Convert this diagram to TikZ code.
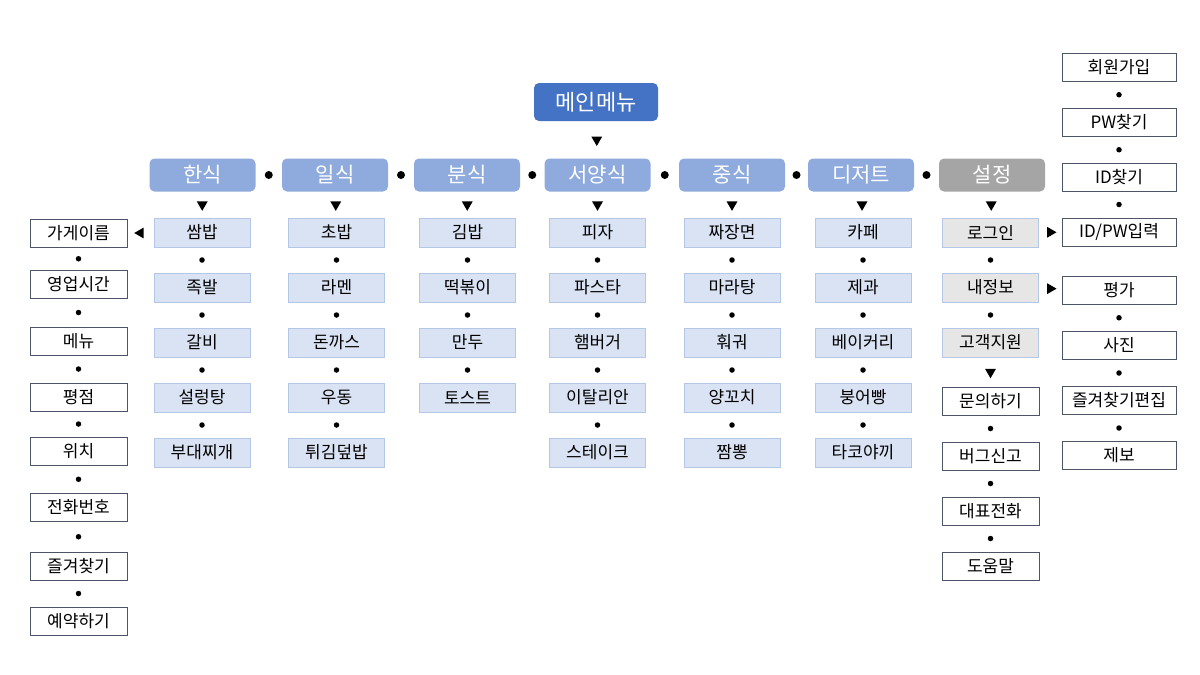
\documentclass[tikz,border=0pt]{standalone}
\usepackage{fontspec}
\setmainfont{Noto Sans CJK KR}
\usetikzlibrary{shapes.geometric}
\definecolor{mainblue}{HTML}{4472C4}
\definecolor{catblue}{HTML}{8FAADC}
\definecolor{catgray}{HTML}{A5A5A5}
\definecolor{subfill}{HTML}{DAE3F3}
\definecolor{subborder}{HTML}{B4C7E7}
\definecolor{setfill}{HTML}{E7E6E6}
\definecolor{boxline}{HTML}{4A5566}
\begin{document}
\begin{tikzpicture}[x=1pt,y=-1pt,
  mainbox/.style={fill=mainblue, rounded corners=5pt, text=white, font=\fontsize{22}{26}\selectfont, minimum width=124pt, minimum height=38pt, inner sep=0pt},
  catbox/.style={fill=catblue, rounded corners=5pt, text=white, font=\fontsize{21}{25}\selectfont, minimum width=106pt, minimum height=33pt, inner sep=0pt},
  subbox/.style={fill=subfill, draw=subborder, line width=1pt, font=\fontsize{17}{20}\selectfont, minimum width=96pt, minimum height=29pt, inner sep=0pt},
  setbox/.style={subbox, fill=setfill},
  whitebox/.style={fill=white, draw=boxline, line width=0.9pt, font=\fontsize{17}{20}\selectfont, minimum width=97pt, minimum height=28pt, inner sep=0pt},
  dotc/.style={circle, fill=black, inner sep=0pt, minimum size=5.5pt},
  bigdot/.style={circle, fill=black, inner sep=0pt, minimum size=8pt},
  tridown/.style={regular polygon, regular polygon sides=3, shape border rotate=180, fill=black, inner sep=0pt, minimum size=12.5pt},
  triright/.style={regular polygon, regular polygon sides=3, shape border rotate=-90, fill=black, inner sep=0pt, minimum size=12.5pt},
  trileft/.style={regular polygon, regular polygon sides=3, shape border rotate=90, fill=black, inner sep=0pt, minimum size=12.5pt},
]
\path[use as bounding box, fill=white] (0,0) rectangle (1200,675);

% main menu
\node[mainbox] (m) at (596,102) {메인메뉴};

% categories
\node[catbox] (han) at (202.5,175) {한식};
\node[catbox] (il) at (335,175) {일식};
\node[catbox] (bun) at (467,175) {분식};
\node[catbox] (seo) at (597.5,175) {서양식};
\node[catbox] (jung) at (732,175) {중식};
\node[catbox] (des) at (861,175) {디저트};
\node[catbox, fill=catgray] (set) at (992,175) {설정};

\path (m) -- node[tridown]{} (seo);
\foreach \a/\b in {han/il, il/bun, bun/seo, seo/jung, jung/des, des/set}
  \path (\a) -- node[bigdot]{} (\b);

% sub items
\foreach \t [count=\i] in {쌈밥,족발,갈비,설렁탕,부대찌개}
  \node[subbox] (han\i) at (202,177.5+55*\i) {\t};
\foreach \t [count=\i] in {초밥,라멘,돈까스,우동,튀김덮밥}
  \node[subbox] (il\i) at (336.5,177.5+55*\i) {\t};
\foreach \t [count=\i] in {김밥,떡볶이,만두,토스트}
  \node[subbox] (bun\i) at (467.5,177.5+55*\i) {\t};
\foreach \t [count=\i] in {피자,파스타,햄버거,이탈리안,스테이크}
  \node[subbox] (seo\i) at (597.5,177.5+55*\i) {\t};
\foreach \t [count=\i] in {짜장면,마라탕,훠궈,양꼬치,짬뽕}
  \node[subbox] (jung\i) at (732,177.5+55*\i) {\t};
\foreach \t [count=\i] in {카페,제과,베이커리,붕어빵,타코야끼}
  \node[subbox] (des\i) at (863,177.5+55*\i) {\t};
\foreach \t [count=\i] in {로그인,내정보,고객지원}
  \node[setbox] (set\i) at (990.5,177.5+55*\i) {\t};

\foreach \c in {han,il,bun,seo,jung,des,set}
  \path (\c) -- node[tridown]{} (\c1);
\foreach \c in {han,il,seo,jung,des}
  \foreach \i/\j in {1/2,2/3,3/4,4/5}
    \path (\c\i) -- node[dotc]{} (\c\j);
\foreach \i/\j in {1/2,2/3,3/4}
  \path (bun\i) -- node[dotc]{} (bun\j);
\foreach \i/\j in {1/2,2/3}
  \path (set\i) -- node[dotc]{} (set\j);

% support sub items
\node[whitebox] (q1) at (990.5,401) {문의하기};
\node[whitebox] (q2) at (990.5,456) {버그신고};
\node[whitebox] (q3) at (990.5,511) {대표전화};
\node[whitebox] (q4) at (990.5,566) {도움말};
\path (set3) -- node[tridown]{} (q1);
\foreach \i/\j in {1/2,2/3,3/4}
  \path (q\i) -- node[dotc]{} (q\j);

% right column
\node[whitebox, minimum width=114pt] (r1) at (1119,67) {회원가입};
\node[whitebox, minimum width=114pt] (r2) at (1119,122.5) {PW찾기};
\node[whitebox, minimum width=114pt] (r3) at (1119,177) {ID찾기};
\node[whitebox, minimum width=114pt] (r4) at (1119,232) {ID/PW입력};
\node[whitebox, minimum width=114pt] (r5) at (1119,290) {평가};
\node[whitebox, minimum width=114pt] (r6) at (1119,345.5) {사진};
\node[whitebox, minimum width=114pt] (r7) at (1119,400.5) {즐겨찾기편집};
\node[whitebox, minimum width=114pt] (r8) at (1119,455.5) {제보};
\foreach \i/\j in {1/2,2/3,3/4,5/6,6/7,7/8}
  \path (r\i) -- node[dotc]{} (r\j);
\path (set1) -- node[triright]{} (r4);
\path (set2) -- node[triright]{} (r5);

% left column
\node[whitebox] (l1) at (78.5,233.5) {가게이름};
\node[whitebox] (l2) at (78.5,284) {영업시간};
\node[whitebox] (l3) at (78.5,341) {메뉴};
\node[whitebox] (l4) at (78.5,397) {평점};
\node[whitebox] (l5) at (78.5,451) {위치};
\node[whitebox] (l6) at (78.5,507.5) {전화번호};
\node[whitebox] (l7) at (78.5,566) {즐겨찾기};
\node[whitebox] (l8) at (78.5,621) {예약하기};
\foreach \i/\j in {1/2,2/3,3/4,4/5,5/6,6/7,7/8}
  \path (l\i) -- node[dotc]{} (l\j);
\path (han1) -- node[trileft]{} (l1);
\end{tikzpicture}
\end{document}
